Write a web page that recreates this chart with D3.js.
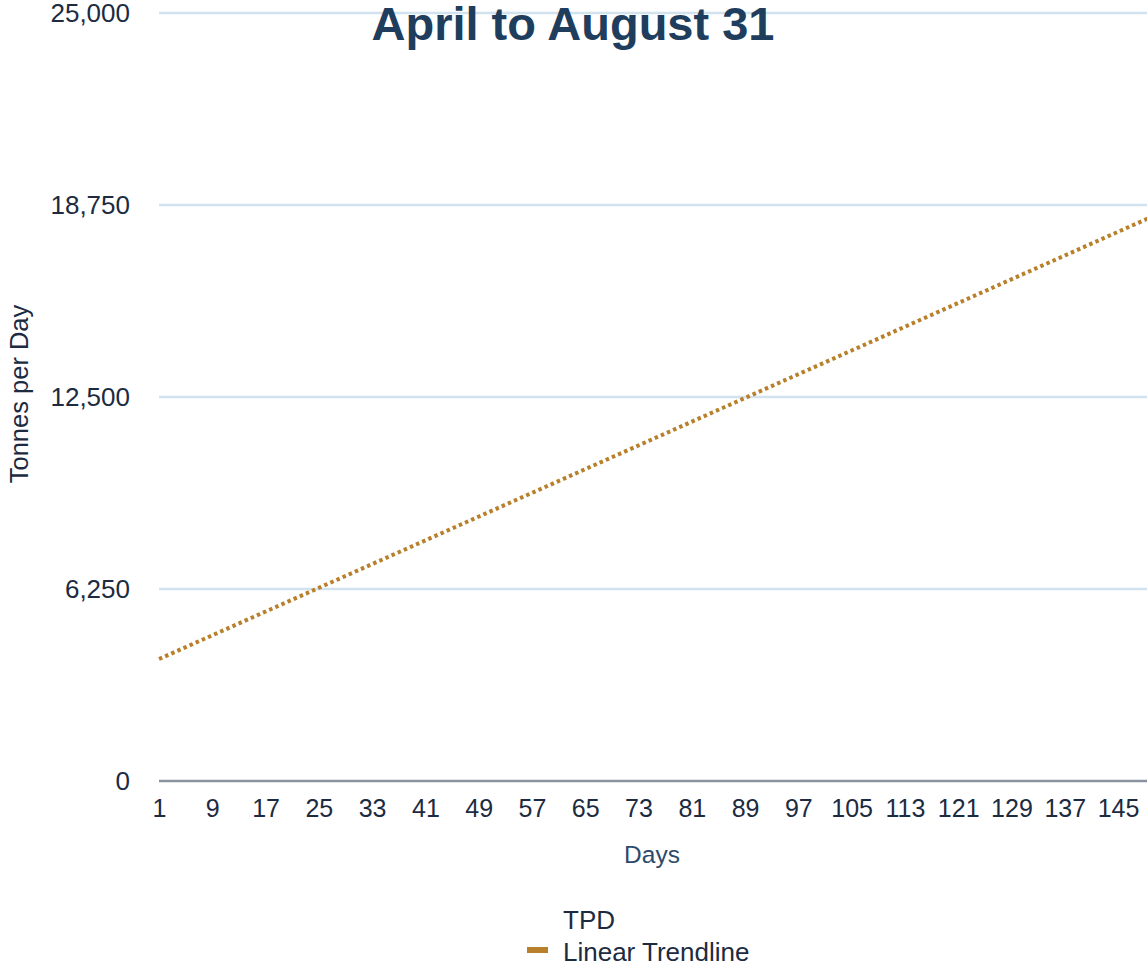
<!DOCTYPE html>
<html>
<head>
<meta charset="utf-8">
<script src="https://cdn.jsdelivr.net/npm/d3@7"></script>
<style>
  html, body { margin: 0; padding: 0; background: #fff; overflow: hidden; }
  svg { display: block; font-family: "Liberation Sans", Arial, Helvetica, sans-serif; }
</style>
</head>
<body>
<svg id="chart" width="1147" height="966"></svg>
<script>
// ---- Data ----
const title = "April to August 31";
const xTitle = "Days";
const yTitle = "Tonnes per Day";
const dayRange = [1, 153];               // April 1 .. August 31
const xTickValues = [1, 9, 17, 25, 33, 41, 49, 57, 65, 73, 81, 89, 97, 105, 113, 121, 129, 137, 145];
const yTickValues = [0, 6250, 12500, 18750, 25000];
const tpdDays = [];                      // TPD series: no visible points
const tpdValues = [];
const trendDays = [1, 153];
const trendValues = [3970, 18650];
const legendItems = ["TPD", "Linear Trendline"];

// ---- Chart ----
(function () {
const svg = d3.select("#chart");
const W = 1147, H = 966;
const mLeft = 159, mTop = 13, mBottom = 781;
const dayStep = 6.66;
const x = d3.scaleLinear().domain(dayRange).range([mLeft, mLeft + (dayRange[1] - dayRange[0]) * dayStep]);
const y = d3.scaleLinear().domain([0, 25000]).range([mBottom, mTop]);

const textColor = "#1c2b3f";
const lineColor = "#b8802b";

// gridlines
svg.append("g").selectAll("line").data(yTickValues.filter(d => d > 0)).join("line")
  .attr("x1", mLeft).attr("x2", W)
  .attr("y1", d => y(d)).attr("y2", d => y(d))
  .attr("stroke", "#d3e2ef").attr("stroke-width", 2.5);

// y axis labels
const yAxis = d3.axisLeft(y).tickValues(yTickValues).tickSize(0).tickPadding(0)
  .tickFormat(d3.format(","));
const yg = svg.append("g").attr("transform", `translate(${130},0)`).call(yAxis);
yg.select(".domain").remove();
yg.attr("font-family", null);
yg.selectAll("text").attr("font-size", 26).attr("fill", textColor);

// x axis baseline
svg.append("line").attr("x1", mLeft).attr("x2", W).attr("y1", mBottom).attr("y2", mBottom)
  .attr("stroke", "#8b93a0").attr("stroke-width", 2.5);

// x axis labels
const xAxis = d3.axisBottom(x).tickValues(xTickValues).tickSize(0).tickPadding(0).tickFormat(d3.format("d"));
const xg = svg.append("g").attr("transform", `translate(0,${mBottom})`).call(xAxis);
xg.select(".domain").remove();
xg.attr("font-family", null);
xg.selectAll("text").attr("font-size", 25).attr("fill", textColor).attr("dy", null).attr("y", 36);

// axis titles
svg.append("text").attr("x", 652).attr("y", 863).attr("text-anchor", "middle")
  .attr("font-size", 24.5).attr("fill", "#2c4a6b").text(xTitle);
svg.append("text").attr("transform", `translate(28,394) rotate(-90)`).attr("text-anchor", "middle")
  .attr("font-size", 25.5).attr("fill", textColor).text(yTitle);

// TPD series (empty)
svg.append("g").selectAll("circle").data(tpdDays.map((d, i) => [d, tpdValues[i]])).join("circle")
  .attr("cx", d => x(d[0])).attr("cy", d => y(d[1])).attr("r", 3).attr("fill", "#1f3d5c");

// trendline
const trend = trendDays.map((d, i) => [d, trendValues[i]]);
svg.append("path").datum(trend)
  .attr("d", d3.line().x(d => x(d[0])).y(d => y(d[1])))
  .attr("fill", "none").attr("stroke", lineColor).attr("stroke-width", 4)
  .attr("stroke-dasharray", "3.5,3.2");

// title
svg.append("text").attr("x", 573).attr("y", 40).attr("text-anchor", "middle")
  .attr("font-size", 47).attr("font-weight", "bold").attr("fill", "#1f3d5c").text(title);

// legend
const lg = svg.append("g");
lg.append("text").attr("x", 563).attr("y", 929).attr("font-size", 26).attr("fill", textColor).text(legendItems[0]);
lg.append("rect").attr("x", 527).attr("y", 947).attr("width", 21).attr("height", 6).attr("fill", lineColor);
lg.append("text").attr("x", 563).attr("y", 961).attr("font-size", 26).attr("fill", textColor).text(legendItems[1]);
})();
</script>
</body>
</html>
